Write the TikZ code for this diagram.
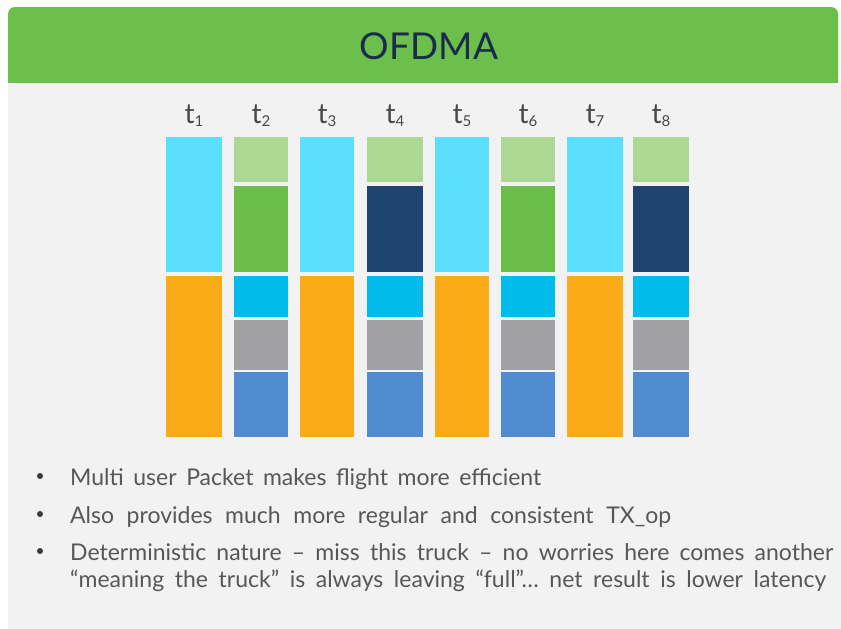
\documentclass[tikz,border=0pt]{standalone}
\usepackage{fontspec}
\setmainfont{Lato}
\definecolor{pagebg}{HTML}{FFFFFF}
\definecolor{panelbg}{HTML}{F2F2F2}
\definecolor{headgreen}{HTML}{6CBF4B}
\definecolor{titleink}{HTML}{1B2A4E}
\definecolor{bodyink}{HTML}{575757}
\definecolor{dotink}{HTML}{3A3A3A}
\definecolor{labelink}{HTML}{484848}
\definecolor{skyblue}{HTML}{5ADFFF}
\definecolor{amber}{HTML}{FBAB18}
\definecolor{palegreen}{HTML}{ABD994}
\definecolor{leafgreen}{HTML}{6CBE4B}
\definecolor{navyblue}{HTML}{1F4470}
\definecolor{brightcyan}{HTML}{00BCEB}
\definecolor{stone}{HTML}{A0A0A5}
\definecolor{steelblue}{HTML}{518CD0}
\tikzset{
  titletext/.style={font=\fontsize{37}{40}\selectfont, text=titleink, inner sep=0pt, anchor=base},
  tlabel/.style={font=\fontsize{28}{30}\selectfont, text=labelink, inner sep=0pt, anchor=base},
  bodytext/.style={font=\fontsize{23}{26}\selectfont, text=bodyink, inner sep=0pt, anchor=base west},
  dotmark/.style={circle, fill=dotink, inner sep=0pt, minimum size=6pt},
}
% one slot block: #1 colour, #2 left, #3 top, #4 right, #5 bottom
\newcommand{\slotblock}[5]{\fill[#1] (#2,#3) rectangle (#4,#5);}
% a column in which one user fills each half of the slot
\newcommand{\singlecol}[2]{%
  \slotblock{skyblue}{#1}{137}{#2}{272}
  \slotblock{amber}{#1}{276}{#2}{437}}
% a column shared by several users: #3 is the second upper block
\newcommand{\sharedcol}[3]{%
  \slotblock{palegreen}{#1}{137}{#2}{182}
  \slotblock{#3}{#1}{186}{#2}{272}
  \slotblock{brightcyan}{#1}{276}{#2}{317}
  \slotblock{stone}{#1}{320}{#2}{370}
  \slotblock{steelblue}{#1}{372}{#2}{437}}
% subscripted time label
\newcommand{\tsub}[1]{t{\fontsize{15}{15}\selectfont\raisebox{-3pt}{#1}}}
\begin{document}
\begin{tikzpicture}[x=1pt,y=-1pt]
\useasboundingbox (0,0) rectangle (841,629);
\fill[pagebg] (0,0) rectangle (841,629);
% panel and header band
\fill[panelbg] (8,83) rectangle (841,629);
\fill[headgreen, rounded corners=7pt] (8,7) rectangle (838,83);
\fill[headgreen] (8,40) rectangle (838,83);
\node[titletext] (title) at (429,59) {OFDMA};

% time slots
\singlecol{166}{222}
\sharedcol{234}{288}{leafgreen}
\singlecol{300}{354}
\sharedcol{367}{423}{navyblue}
\singlecol{435}{489}
\sharedcol{501}{555}{leafgreen}
\singlecol{567}{623}
\sharedcol{633}{689}{navyblue}

% slot labels
\node[tlabel] (t1) at (194,123) {\tsub{1}};
\node[tlabel] (t2) at (261,123) {\tsub{2}};
\node[tlabel] (t3) at (327,123) {\tsub{3}};
\node[tlabel] (t4) at (395,123) {\tsub{4}};
\node[tlabel] (t5) at (462,123) {\tsub{5}};
\node[tlabel] (t6) at (528,123) {\tsub{6}};
\node[tlabel] (t7) at (595,123) {\tsub{7}};
\node[tlabel] (t8) at (661,123) {\tsub{8}};

% bullet list
\node[dotmark] (d1) at (40,476) {};
\node[dotmark] (d2) at (40,514) {};
\node[dotmark] (d3) at (40,551) {};
\node[bodytext] (p1) at (70,485) {\makebox[471pt][s]{Multi user Packet makes flight more efficient}};
\node[bodytext] (p2) at (70,523) {\makebox[601pt][s]{Also provides much more regular and consistent TX\_op}};
\node[bodytext] (p3) at (70,560) {\makebox[763pt][s]{Deterministic nature -- miss this truck -- no worries here comes another}};
\node[bodytext] (p4) at (70,587) {\makebox[756pt][s]{“meaning the truck” is always leaving “full”… net result is lower latency}};
\end{tikzpicture}
\end{document}
